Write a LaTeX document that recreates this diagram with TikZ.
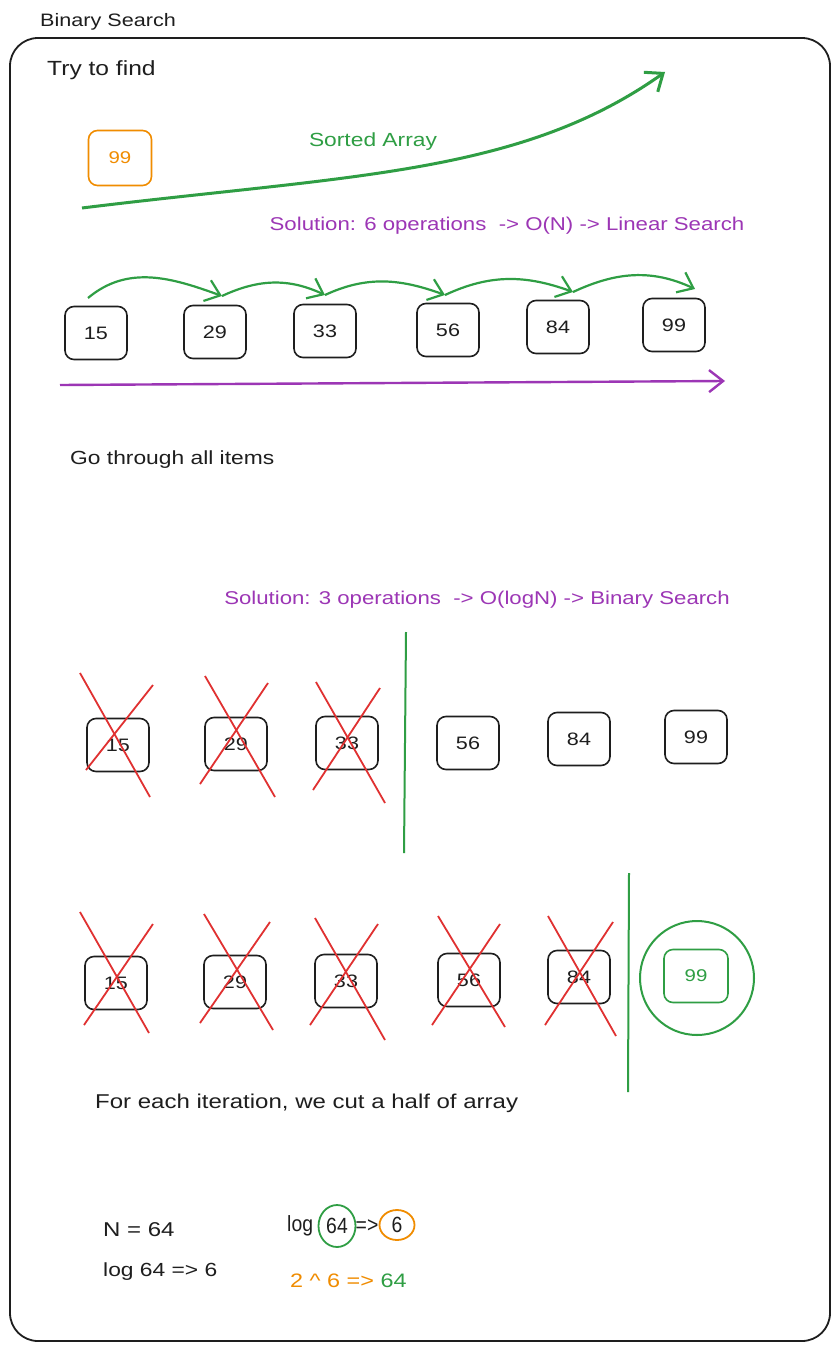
\documentclass[tikz,border=0pt]{standalone}
\usepackage{fontspec}
\setmainfont{Liberation Sans}
\newfontfamily\hand{Liberation Sans}[FakeStretch=1.2]
\newfontfamily\handn{Liberation Sans}[FakeStretch=0.88]
\usetikzlibrary{arrows.meta,shapes.geometric}
\definecolor{exgreen}{HTML}{2F9E44}
\definecolor{expurple}{HTML}{9C36B5}
\definecolor{exorange}{HTML}{F08C00}
\definecolor{exred}{HTML}{E03131}
\definecolor{exblack}{HTML}{1E1E1E}
\newcommand{\hs}[1]{\hand\fontsize{#1}{#1}\selectfont}
\newcommand{\ps}[1]{\handn\fontsize{#1}{#1}\selectfont}
\begin{document}
\begin{tikzpicture}[x=1pt,y=-1pt,
  box/.style={draw=exblack,line width=1.6pt,rounded corners=9pt,minimum width=62pt,minimum height=53pt,inner sep=0pt,font=\hs{18},text=exblack},
  lbl/.style={anchor=west,inner sep=0pt,font=\hs{19},text=exblack},
  plbl/.style={inner sep=0pt,font=\hs{18.5},text=expurple},
  xline/.style={draw=exred,line width=1.8pt},
  barb/.style={-{Straight Barb[length=14pt,width=22pt]}},
  hop/.style={draw=exgreen,line width=2.2pt,barb},
  divider/.style={draw=exgreen,line width=2pt},
  ring/.style={ellipse,draw,line width=1.8pt,inner sep=0pt,font=\ps{22},text=exblack}
]
\useasboundingbox (0,0) rectangle (840,1351);
\fill[white] (0,0) rectangle (840,1351);

% frame and title
\node[lbl,font=\hs{18}] (title) at (40,22) {Binary Search};
\draw[exblack,line width=1.8pt,rounded corners=28pt] (10,38) rectangle (830,1341);

% top section
\node[lbl,font=\hs{20.5}] (try) at (47,70) {Try to find};
\node[box,draw=exorange,text=exorange,minimum width=63pt,minimum height=55pt,font=\hs{17}] (target) at (120,158) {99};
\coordinate (sa0) at (82,208);
\coordinate (sa1) at (665,72);
\draw[exgreen,line width=3pt,-{Straight Barb[length=15pt,width=24pt]}] (sa0) .. controls (350,175) and (520,175) .. (sa1);
\node[inner sep=0pt,font=\hs{19},text=exgreen] (sorted) at (373,142) {Sorted Array};

\node[plbl] (sol1) at (507,226) {Solution: 6 operations \ -> O(N) -> Linear Search};

% linear search row
\node[box] (a1) at (96,333) {15};
\node[box] (a2) at (215,332) {29};
\node[box] (a3) at (325,331) {33};
\node[box] (a4) at (448,330) {56};
\node[box] (a5) at (558,327) {84};
\node[box] (a6) at (674,325) {99};

\coordinate (h0) at (88,298);
\coordinate (h1) at (222,296);
\coordinate (h2) at (325,295);
\coordinate (h3) at (445,295);
\coordinate (h4) at (573,292);
\coordinate (h5) at (695,289);
\draw[hop] (h0) to[out=40,in=160] (h1);
\draw[hop] (h1) to[out=25,in=155] (h2);
\draw[hop] (h2) to[out=25,in=160] (h3);
\draw[hop] (h3) to[out=25,in=160] (h4);
\draw[hop] (h4) to[out=25,in=155] (h5);

\coordinate (p0) at (60,385);
\coordinate (p1) at (725,381);
\draw[expurple,line width=2.4pt,barb] (p0) -- (p1);

\node[lbl] (go) at (70,460) {Go through all items};

% binary search row 1
\node[plbl] (sol2) at (477,600) {Solution: 3 operations \ -> O(logN) -> Binary Search};

\node[box] (b1) at (118,745) {15};
\node[box] (b2) at (236,744) {29};
\node[box] (b3) at (347,743) {33};
\node[box] (b4) at (468,743) {56};
\node[box] (b5) at (579,739) {84};
\node[box] (b6) at (696,737) {99};

\draw[xline] ([shift={(-38,-72)}]b1.center) -- ([shift={(32,52)}]b1.center);
\draw[xline] ([shift={(35,-60)}]b1.center) -- ([shift={(-32,25)}]b1.center);
\draw[xline] ([shift={(-31,-68)}]b2.center) -- ([shift={(39,53)}]b2.center);
\draw[xline] ([shift={(32,-61)}]b2.center) -- ([shift={(-36,40)}]b2.center);
\draw[xline] ([shift={(-31,-61)}]b3.center) -- ([shift={(38,60)}]b3.center);
\draw[xline] ([shift={(33,-55)}]b3.center) -- ([shift={(-34,47)}]b3.center);

\coordinate (d1a) at (406,632);
\coordinate (d1b) at (404,853);
\draw[divider] (d1a) -- (d1b);

% binary search row 2
\node[box] (c1) at (116,983) {15};
\node[box] (c2) at (235,982) {29};
\node[box] (c3) at (346,981) {33};
\node[box] (c4) at (469,980) {56};
\node[box] (c5) at (579,977) {84};
\node[box,draw=exgreen,text=exgreen,minimum width=64pt,minimum height=53pt,font=\hs{17}] (c6) at (696,976) {99};
\draw[exgreen,line width=2pt] (697,978) ellipse [x radius=57pt,y radius=57pt];

\draw[xline] ([shift={(-36,-71)}]c1.center) -- ([shift={(33,50)}]c1.center);
\draw[xline] ([shift={(37,-59)}]c1.center) -- ([shift={(-32,42)}]c1.center);
\draw[xline] ([shift={(-31,-68)}]c2.center) -- ([shift={(38,48)}]c2.center);
\draw[xline] ([shift={(35,-60)}]c2.center) -- ([shift={(-35,41)}]c2.center);
\draw[xline] ([shift={(-31,-63)}]c3.center) -- ([shift={(39,59)}]c3.center);
\draw[xline] ([shift={(32,-57)}]c3.center) -- ([shift={(-36,44)}]c3.center);
\draw[xline] ([shift={(-31,-64)}]c4.center) -- ([shift={(36,47)}]c4.center);
\draw[xline] ([shift={(31,-56)}]c4.center) -- ([shift={(-37,45)}]c4.center);
\draw[xline] ([shift={(-31,-61)}]c5.center) -- ([shift={(37,59)}]c5.center);
\draw[xline] ([shift={(34,-55)}]c5.center) -- ([shift={(-34,48)}]c5.center);

\coordinate (d2a) at (629,873);
\coordinate (d2b) at (628,1092);
\draw[divider] (d2a) -- (d2b);

\node[lbl,font=\hs{20}] (each) at (95,1103) {For each iteration, we cut a half of array};

% bottom maths
\node[lbl,font=\hs{20}] (n64) at (103,1230) {N = 64};
\node[lbl] (log1) at (103,1272) {log 64 => 6};

\node[lbl,font=\ps{22}] (log2) at (287,1226) {log};
\node[ring,draw=exgreen,minimum width=37pt,minimum height=42pt] (c64) at (337,1226) {64};
\node[inner sep=0pt,font=\ps{22},text=exblack] (impl) at (367,1226) {=>};
\node[ring,draw=exorange,minimum width=35pt,minimum height=30pt] (c6b) at (397,1225) {6};

\node[lbl,font=\hs{19.5},text=exorange] (pow) at (290,1281) {2 \^{} 6 =>\ \textcolor{exgreen}{64}};
\end{tikzpicture}
\end{document}
